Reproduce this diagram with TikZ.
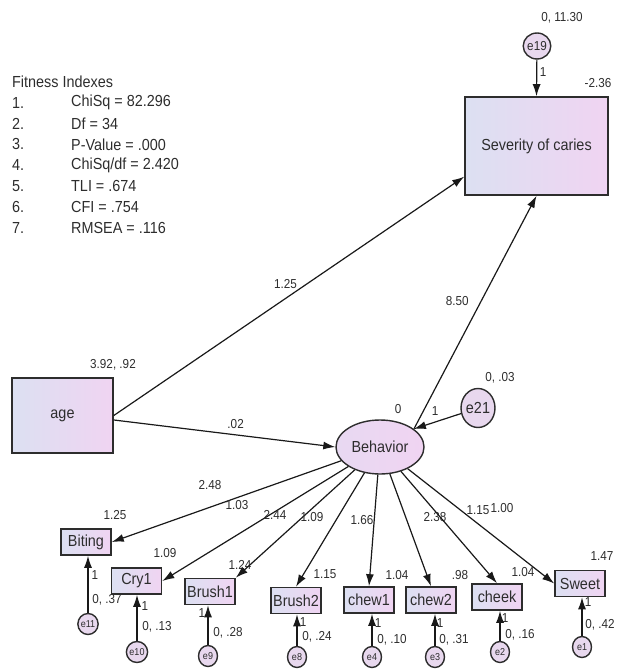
\documentclass[tikz,border=0pt]{standalone}
\usepackage{fontspec}
\setmainfont{Liberation Sans}[FakeStretch=0.9]
\usetikzlibrary{arrows.meta,shapes.geometric}

\definecolor{boxl}{RGB}{220,224,242}
\definecolor{boxr}{RGB}{240,212,242}
\definecolor{errfill}{RGB}{232,216,238}
\definecolor{ink}{RGB}{45,45,45}

\tikzset{
  obs/.style={rectangle,draw=ink,line width=1.6pt,left color=boxl,right color=boxr,
    text=ink,font=\fontsize{16}{18}\selectfont,inner sep=2pt},
  lat/.style={ellipse,draw=ink,line width=1.4pt,left color=boxl!40!boxr,right color=boxr,
    text=ink,font=\fontsize{16}{18}\selectfont,inner sep=0pt},
  err/.style={ellipse,draw=ink,line width=1.4pt,fill=errfill,text=ink,inner sep=0pt,
    font=\fontsize{10}{11}\selectfont,minimum width=19pt,minimum height=21pt},
  lbl/.style={text=ink,font=\fontsize{13}{15}\selectfont,inner sep=0pt},
  idx/.style={text=ink,font=\fontsize{16}{18}\selectfont,inner sep=0pt,anchor=west},
  reg/.style={draw=black!90,line width=1.2pt,-{Latex[length=12pt,width=8pt]}}
}

\begin{document}
\begin{tikzpicture}[x=1pt,y=-1pt]
\useasboundingbox (0,0) rectangle (617,669);

% fit indexes
\node[idx] (fithead) at (12,82) {Fitness Indexes};
\foreach \t [count=\i] in {ChiSq = 82.296, Df = 34, P-Value = .000, ChiSq/df = 2.420, TLI = .674, CFI = .754, RMSEA = .116}{
  \node[idx] (num\i) at (12,{82+20.8*\i}) {\i.};
  \node[idx] (fit\i) at (71,{82+20.8*\i}) {\t};
}

% structural part
\node[obs,minimum width=143pt,minimum height=98pt] (sev) at (536.5,146) {Severity of caries};
\node[obs,minimum width=101pt,minimum height=75pt] (age) at (62.5,415.5) {age};
\node[lat,minimum width=88pt,minimum height=54pt] (beh) at (380,447) {Behavior};
\node[err,minimum width=26pt,minimum height=26pt,font=\fontsize{13}{15}\selectfont] (e19) at (537,46) {e19};
\node[err,minimum width=33pt,minimum height=39pt,font=\fontsize{16}{18}\selectfont] (e21) at (478,408) {e21};

\node[lbl] (sevint) at (598,83) {-2.36};
\node[lbl] (e19var) at (562,18) {0, 11.30};
\node[lbl] (agevar) at (113,365) {3.92, .92};
\node[lbl] (behint) at (398,409) {0};
\node[lbl] (e21var) at (500,378) {0, .03};

\draw[reg] (age.east) -- (sev.203) node[lbl,pos=0.49,above=9pt] (wage) {1.25};
\draw[reg] (age.-5) -- (beh.west) node[lbl,pos=0.55,above=6pt] (wagebeh) {.02};
\draw[reg] (beh.28) -- (sev.south) node[lbl,pos=0.55,left=12pt] (wbeh) {8.50};
\draw[reg] (e21) -- (beh.28);
\node[lbl] (e21one) at (435,411) {1};
\draw[reg] (e19) -- (sev.north);
\node[lbl] (e19one) at (543,72) {1};

% indicators of Behavior
\foreach \n/\x/\y/\t/\ux/\uy/\v in {bit/86/542/Biting/115/515/1.25, cry/136.5/581/Cry1/165/553/1.09,
    br1/210/591.5/Brush1/240/565/1.24, br2/296/600.5/Brush2/325/574/1.15,
    ch1/369/600/chew1/397/575/1.04, ch2/431/600/chew2/460/575/.98,
    chk/497/597/cheek/523/572/1.04, swt/580/583.5/Sweet/602/556/1.47}{
  \node[obs,minimum width=50pt,minimum height=26pt] (\n) at (\x,\y) {\t};
  \node[lbl] (\n int) at (\ux,\uy) {\v};
}
\foreach \n/\tip/\lx/\ly/\w in {bit/east/210/485/2.48, cry/east/237/505/1.03,
    br1/north east/275/515/2.44, br2/north/312/517/1.09, ch1/north/362/520/1.66,
    ch2/north/435/517/2.38, chk/north/478/510/1.15, swt/west/502/508/1.00}{
  \draw[reg] (beh) -- (\n.\tip);
  \node[lbl] (\n w) at (\lx,\ly) {\w};
}

% error terms
\foreach \e/\n/\x/\y/\ox/\oy/\vx/\vy/\v in {e11/bit/88/624/95/575/107/600/{0, .37},
    e10/cry/137/652/145/606/157/627/{0, .13}, e9/br1/208/656/202/613/228/633/{0, .28},
    e8/br2/297/657/303/622/317/637/{0, .24}, e4/ch1/372/657/378/623/392/640/{0, .10},
    e3/ch2/435/657/440/623/454/640/{0, .31}, e2/chk/500/652/505/618/520/635/{0, .16},
    e1/swt/582/647/588/602/600/625/{0, .42}}{
  \node[err] (\e) at (\x,\y) {\e};
  \draw[reg] (\e) -- (\e |- \n.south);
  \node[lbl] (\e one) at (\ox,\oy) {1};
  \node[lbl] (\e var) at (\vx,\vy) {\v};
}
\end{tikzpicture}
\end{document}
